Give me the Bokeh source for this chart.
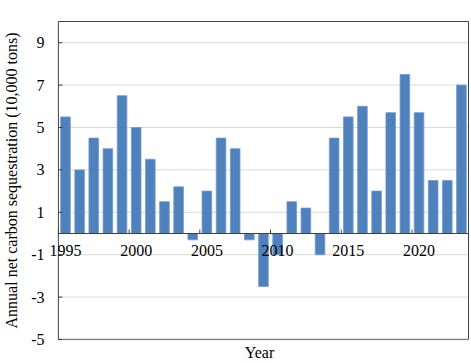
from bokeh.plotting import figure
from bokeh.models import FixedTicker, Range1d, ColumnDataSource
from bokeh.core.properties import value
from bokeh.embed import file_html
from bokeh.resources import INLINE

years = list(range(1995, 2024))
sequestration = [5.5, 3.0, 4.5, 4.0, 6.5, 5.0, 3.5, 1.5, 2.2, -0.3,
                 2.0, 4.5, 4.0, -0.3, -2.5, -1.0, 1.5, 1.2, -1.0, 4.5,
                 5.5, 6.0, 2.0, 5.7, 7.5, 5.7, 2.5, 2.5, 7.0]
x_tick_years = [1995, 2000, 2005, 2010, 2015, 2020]
x_tick_labels = ["1995", "2000", "2005", "2010", "2015", "2020"]
y_ticks = [-5, -3, -1, 1, 3, 5, 7, 9]
y_tick_labels = ["-5", "-3", "-1", "1", "3", "5", "7", "9"]
y_min, y_max = -5, 10

FONT = "Liberation Serif"

# layout (pixels)
W, H = 471, 363
BL, BR, BT, BB = 44, 1, 20, 21          # figure borders around the frame
AXIS_GAP = 10                           # px between frame left and the y-axis line
RIGHT_PAD = 2
TOP_PAD = 1

x_lo, x_hi = years[0] - 0.5, years[-1] + 0.5
frame_w = W - BL - BR
px_per_x = (frame_w - AXIS_GAP - RIGHT_PAD) / (x_hi - x_lo)
frame_h = H - BT - BB
px_per_y = (frame_h - 2 * TOP_PAD) / (y_max - y_min)

p = figure(width=W, height=H, output_backend="svg", toolbar_location=None,
           x_range=Range1d(x_lo - AXIS_GAP / px_per_x, x_hi + RIGHT_PAD / px_per_x),
           y_range=Range1d(y_min - TOP_PAD / px_per_y, y_max + TOP_PAD / px_per_y),
           min_border_left=BL, min_border_right=BR, min_border_top=BT,
           min_border_bottom=BB)

p.background_fill_color = "white"
p.border_fill_color = "white"
p.outline_line_color = None

# horizontal gridlines
n = len(y_ticks)
p.segment(x0=[x_lo] * n, x1=[x_hi] * n, y0=y_ticks, y1=y_ticks,
          line_color="#d9d9d9", line_width=1)

# bars
src = ColumnDataSource(dict(x=years, top=sequestration))
p.vbar(x="x", top="top", bottom=0, width=0.68, source=src,
       fill_color="#4f81bd", line_color="#6f9ad0", line_width=0.8)

# plot-area box: top/right dark, bottom gray
p.segment(x0=[x_lo, x_hi], x1=[x_hi, x_hi], y0=[y_max, y_min], y1=[y_max, y_max],
          line_color="#404040", line_width=1)
p.segment(x0=[x_lo], x1=[x_hi], y0=[y_min], y1=[y_min],
          line_color="#808080", line_width=1.5)

# y axis line and inward ticks
p.segment(x0=[x_lo], x1=[x_lo], y0=[y_min], y1=[y_max],
          line_color="#404040", line_width=1)
p.segment(x0=[x_lo] * n, x1=[x_lo + 4 / px_per_x] * n, y0=y_ticks, y1=y_ticks,
          line_color="#404040", line_width=1)

# horizontal axis at zero with ticks between categories
p.segment(x0=[x_lo], x1=[x_hi], y0=[0], y1=[0], line_color="#404040", line_width=1)
tick_x = [y - 0.5 for y in x_tick_years]
p.segment(x0=tick_x, x1=tick_x, y0=[0] * len(tick_x),
          y1=[4 / px_per_y] * len(tick_x), line_color="#404040", line_width=1)
p.text(x=x_tick_years, y=[0] * len(x_tick_years), text=x_tick_labels,
       text_font=value(FONT), text_font_size="16px", text_color="black",
       text_align="center", text_baseline="top", y_offset=11)

# y axis labels (axis sits at frame left; its own line and ticks are hidden)
p.yaxis.ticker = FixedTicker(ticks=y_ticks)
p.yaxis.major_label_overrides = {t: s for t, s in zip(y_ticks, y_tick_labels)}
p.yaxis.minor_tick_line_color = None
p.yaxis.major_tick_line_color = None
p.yaxis.axis_line_color = None
p.yaxis.major_tick_in = 0
p.yaxis.major_tick_out = 0
p.yaxis.major_label_standoff = 4
p.yaxis.major_label_text_font = FONT
p.yaxis.major_label_text_font_size = "16px"
p.yaxis.major_label_text_color = "black"
p.yaxis.axis_label = "Annual net carbon sequestration (10,000 tons)"
p.yaxis.axis_label_text_font = FONT
p.yaxis.axis_label_text_font_size = "16px"
p.yaxis.axis_label_text_font_style = "normal"
p.yaxis.axis_label_text_color = "black"
p.yaxis.axis_label_standoff = 8

# bottom axis: only the title
p.xaxis.ticker = FixedTicker(ticks=[])
p.xaxis.major_tick_line_color = None
p.xaxis.minor_tick_line_color = None
p.xaxis.axis_line_color = None
p.xaxis.axis_label = "Year"
p.xaxis.axis_label_text_font = FONT
p.xaxis.axis_label_text_font_size = "16px"
p.xaxis.axis_label_text_font_style = "normal"
p.xaxis.axis_label_text_color = "black"
p.xaxis.axis_label_standoff = 3
p.xaxis.major_label_text_font_size = "0px"

p.xgrid.grid_line_color = None
p.ygrid.grid_line_color = None

open("out.html", "w").write(file_html(p, INLINE))
